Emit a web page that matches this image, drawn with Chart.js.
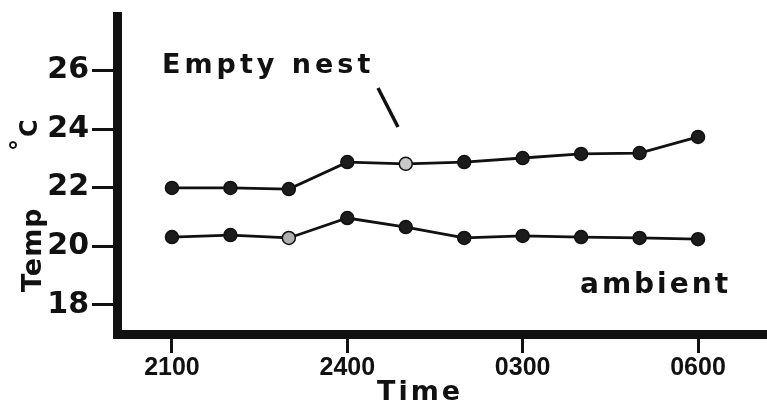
<!DOCTYPE html>
<html>
<head>
<meta charset="utf-8">
<title>Nest temperature</title>
<script src="https://cdn.jsdelivr.net/npm/chart.js@4.4.1/dist/chart.umd.min.js"></script>
<style>
  html, body { margin: 0; padding: 0; background: #fff; }
  #wrap { width: 767px; height: 406px; }
</style>
</head>
<body>
<div id="wrap"><canvas id="chart" width="767" height="406"></canvas></div>
<script>
// clock hours, counted on past midnight (24 = 2400, 25 = 0100 ...)
const hours = [21, 22, 23, 24, 25, 26, 27, 28, 29, 30];
const emptyNest = [21.99, 21.99, 21.95, 22.87, 22.81, 22.87, 23.01, 23.15, 23.18, 23.73];
const ambient = [20.31, 20.38, 20.28, 20.96, 20.65, 20.28, 20.35, 20.31, 20.28, 20.24];

const xTicks = [21, 24, 27, 30];
const xTickLabels = ['2100', '2400', '0300', '0600'];
const yTicks = [18, 20, 22, 24, 26];

const ink = '#111';

function toPoints(ys) {
  return hours.map((h, i) => ({ x: h, y: ys[i] }));
}

// a couple of the dots came out pale in print
const nestFill = emptyNest.map((v, i) => i === 4 ? '#c8c8c8' : '#1c1c1c');
const ambFill = ambient.map((v, i) => i === 2 ? '#b0b0b0' : '#1c1c1c');

const labels = {
  id: 'labels',
  afterDraw(chart) {
    const ctx = chart.ctx;
    ctx.save();
    ctx.fillStyle = ink;
    ctx.strokeStyle = ink;
    ctx.textBaseline = 'alphabetic';
    ctx.textAlign = 'left';

    ctx.font = 'bold 27px "DejaVu Sans"';
    ctx.letterSpacing = '4px';
    ctx.fillText('Empty nest', 162, 73);

    ctx.font = 'bold 28px "DejaVu Sans"';
    ctx.letterSpacing = '3px';
    ctx.fillText('ambient', 580, 293);

    ctx.font = 'bold 27px "DejaVu Sans"';
    ctx.letterSpacing = '3px';
    ctx.fillText('Time', 377, 400);

    // pointer to the nest line
    ctx.lineWidth = 3.5;
    ctx.lineCap = 'butt';
    ctx.beginPath();
    ctx.moveTo(378, 88);
    ctx.lineTo(398, 127);
    ctx.stroke();

    // y title, rotated, with a raised degree sign
    ctx.translate(41, 292);
    ctx.rotate(-Math.PI / 2);
    ctx.font = 'bold 27px "DejaVu Sans"';
    ctx.letterSpacing = '1px';
    ctx.fillText('Temp', 0, 0);
    ctx.font = 'bold 24px "DejaVu Sans"';
    ctx.letterSpacing = '0px';
    ctx.fillText('°', 141, -13);
    ctx.fillText('C', 155, -4);
    ctx.restore();
  }
};

// keep the plot box exactly where the layout puts it
function noLabelPadding(s) {
  s.paddingTop = 0;
  s.paddingBottom = 0;
  s.paddingLeft = 0;
  s.paddingRight = 0;
}

new Chart(document.getElementById('chart'), {
  type: 'line',
  data: {
    datasets: [
      {
        label: 'Empty nest',
        data: toPoints(emptyNest),
        borderColor: ink,
        borderWidth: 2.8,
        pointRadius: 6.5,
        pointBorderWidth: 1.5,
        pointBorderColor: ink,
        pointBackgroundColor: nestFill,
        tension: 0
      },
      {
        label: 'ambient',
        data: toPoints(ambient),
        borderColor: ink,
        borderWidth: 2.8,
        pointRadius: 6.5,
        pointBorderWidth: 1.5,
        pointBorderColor: ink,
        pointBackgroundColor: ambFill,
        tension: 0
      }
    ]
  },
  options: {
    responsive: false,
    devicePixelRatio: 1,
    animation: false,
    layout: { autoPadding: false, padding: { top: 16, right: 0, bottom: 0, left: 0 } },
    plugins: {
      legend: { display: false },
      tooltip: { enabled: false }
    },
    scales: {
      x: {
        type: 'linear',
        min: 20.06,
        max: 31.18,
        afterBuildTicks: axis => { axis.ticks = xTicks.map(v => ({ value: v })); },
        afterFit: s => { s.height = 72; noLabelPadding(s); },
        grid: {
          drawOnChartArea: false,
          drawTicks: true,
          tickLength: 19,
          tickWidth: 3,
          tickColor: ink,
          lineWidth: 3,
          color: ink
        },
        border: { display: true, width: 9, color: ink },
        ticks: {
          autoSkip: false,
          maxRotation: 0,
          padding: 0,
          color: ink,
          font: { family: '"Liberation Sans"', size: 25, weight: 'bold' },
          callback: (v) => xTickLabels[xTicks.indexOf(v)]
        }
      },
      y: {
        min: 17,
        max: 27.86,
        afterBuildTicks: axis => { axis.ticks = yTicks.map(v => ({ value: v })); },
        afterFit: s => { s.width = 117; noLabelPadding(s); },
        grid: {
          drawOnChartArea: false,
          drawTicks: true,
          tickLength: 25,
          tickWidth: 3,
          tickColor: ink,
          lineWidth: 3,
          color: ink
        },
        border: { display: true, width: 9, color: ink },
        ticks: {
          padding: 3,
          color: ink,
          font: { family: '"DejaVu Sans"', size: 30, weight: 'bold' }
        }
      }
    }
  },
  plugins: [labels]
});
</script>
</body>
</html>
